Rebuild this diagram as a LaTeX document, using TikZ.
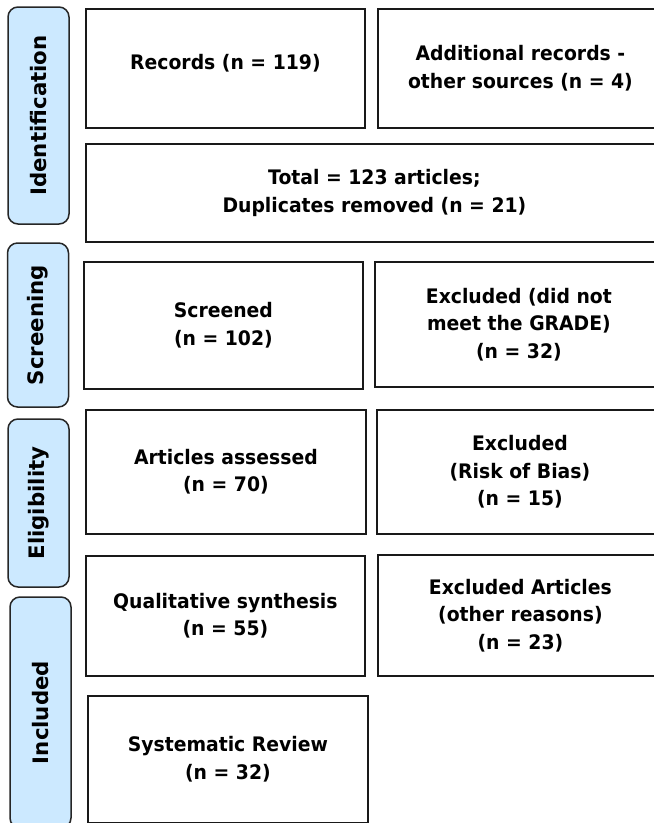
\documentclass[tikz,border=0pt]{standalone}
\usepackage{fontspec}
\setmainfont{DejaVu Sans}
\newfontfamily\boxfont[FakeStretch=0.94]{DejaVu Sans}
\definecolor{tabblue}{RGB}{204,233,255}
\tikzset{
    stagetab/.style={draw=black!85, line width=1.5pt, fill=tabblue, rounded corners=10pt,
        rotate=90, minimum height=61pt, inner sep=0pt,
        font=\bfseries\fontsize{21.3}{24}\selectfont},
    flowbox/.style={draw=black!90, line width=1.8pt, anchor=north west, align=center,
        inner sep=0pt, font=\boxfont\bfseries\fontsize{20}{27.5}\selectfont},
}

\begin{document}
\begin{tikzpicture}[x=1pt, y=1pt]

    \useasboundingbox (0,0) rectangle (654,-823);

    % stage tabs on the left
    \node[stagetab, minimum width=217pt] (ident) at (38.5,-115.5) {Identification};
    \node[stagetab, minimum width=164pt] (screen) at (38,-325) {Screening};
    \node[stagetab, minimum width=168pt] (elig) at (38.5,-503) {Eligibility};
    \node[stagetab, minimum width=231pt] (incl) at (40.5,-712.5) {Included};

    % identification
    \node[flowbox, minimum width=279pt, minimum height=119pt] (records) at (85,-8) {\raisebox{14pt}{Records (n = 119)}};
    \node[flowbox, minimum width=285pt, minimum height=119pt] (additional) at (377,-8) {Additional records -\\other sources (n = 4)};
    \node[flowbox, minimum width=577pt, minimum height=98pt] (total) at (85,-143) {Total = 123 articles;\\Duplicates removed (n = 21)};

    % screening
    \node[flowbox, minimum width=279pt, minimum height=127pt] (screened) at (83,-261) {Screened\\(n = 102)};
    \node[flowbox, minimum width=288pt, minimum height=125pt] (exgrade) at (374,-261) {Excluded (did not\\meet the GRADE)\\(n = 32)};

    % eligibility
    \node[flowbox, minimum width=280pt, minimum height=124pt] (assessed) at (85,-409) {Articles assessed\\(n = 70)};
    \node[flowbox, minimum width=286pt, minimum height=124pt] (exbias) at (376,-409) {Excluded\\(Risk of Bias)\\(n = 15)};

    % included
    \node[flowbox, minimum width=279pt, minimum height=120pt] (qualit) at (85,-555) {Qualitative synthesis\\(n = 55)};
    \node[flowbox, minimum width=285pt, minimum height=121pt] (exother) at (377,-554) {Excluded Articles\\(other reasons)\\(n = 23)};
    \node[flowbox, minimum width=280pt, minimum height=127pt] (sysrev) at (87,-695) {Systematic Review\\(n = 32)};

\end{tikzpicture}
\end{document}
